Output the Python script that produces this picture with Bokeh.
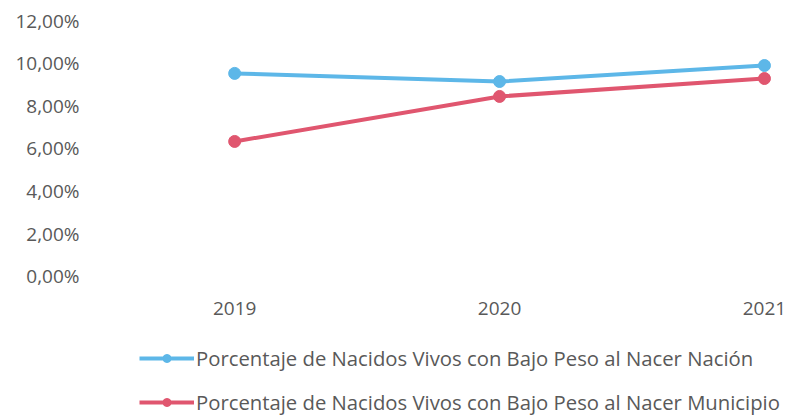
from bokeh.plotting import figure
from bokeh.models import Legend, LegendItem, FixedTicker, CustomJSTickFormatter
from bokeh.embed import file_html
from bokeh.resources import INLINE

years = [2019, 2020, 2021]
nacion = [0.0952, 0.0914, 0.0989]
municipio = [0.0633, 0.0844, 0.0928]
y_ticks = [0.0, 0.02, 0.04, 0.06, 0.08, 0.10, 0.12]
name_nacion = "Porcentaje de Nacidos Vivos con Bajo Peso al Nacer Nación"
name_municipio = "Porcentaje de Nacidos Vivos con Bajo Peso al Nacer Municipio"

BLUE = "#5DB7E8"
RED = "#E0566F"
TXT = "#595959"
FONT = "Open Sans"

p = figure(width=786, height=416, output_backend="svg", toolbar_location=None,
           x_range=(2018.452, 2021.0832), y_range=(-0.06563, 0.12),
           min_border_left=89, min_border_right=0, min_border_top=20, min_border_bottom=0)
p.outline_line_color = None
p.xgrid.visible = False
p.ygrid.visible = False

l1 = p.line(years, nacion, line_color=BLUE, line_width=4)
c1 = p.scatter(years, nacion, size=12, fill_color=BLUE, line_color=BLUE)
l2 = p.line(years, municipio, line_color=RED, line_width=4)
c2 = p.scatter(years, municipio, size=12, fill_color=RED, line_color=RED)

for ax in (p.xaxis[0], p.yaxis[0]):
    ax.axis_line_color = None
    ax.major_tick_line_color = None
    ax.minor_tick_line_color = None
    ax.major_label_text_font = FONT
    ax.major_label_text_font_size = "19px"
    ax.major_label_text_color = TXT

p.xaxis.ticker = FixedTicker(ticks=years)
p.xaxis.fixed_location = 0
p.xaxis.major_label_standoff = 20
p.yaxis.ticker = FixedTicker(ticks=y_ticks)
p.yaxis.formatter = CustomJSTickFormatter(code="return (tick*100).toFixed(2).replace('.', ',') + '%';")
p.yaxis.major_label_standoff = 4

legend = Legend(items=[LegendItem(label=name_nacion, renderers=[l1, c1]),
                       LegendItem(label=name_municipio, renderers=[l2, c2])],
                orientation="vertical", location=(50, 0),
                label_text_font=FONT, label_text_font_size="20.3px", label_text_color=TXT,
                glyph_width=55, glyph_height=20, label_height=20, label_standoff=2,
                spacing=16, padding=0, margin=0, border_line_color=None,
                background_fill_alpha=0)
p.add_layout(legend, "center")

open("out.html", "w").write(file_html(p, INLINE))
